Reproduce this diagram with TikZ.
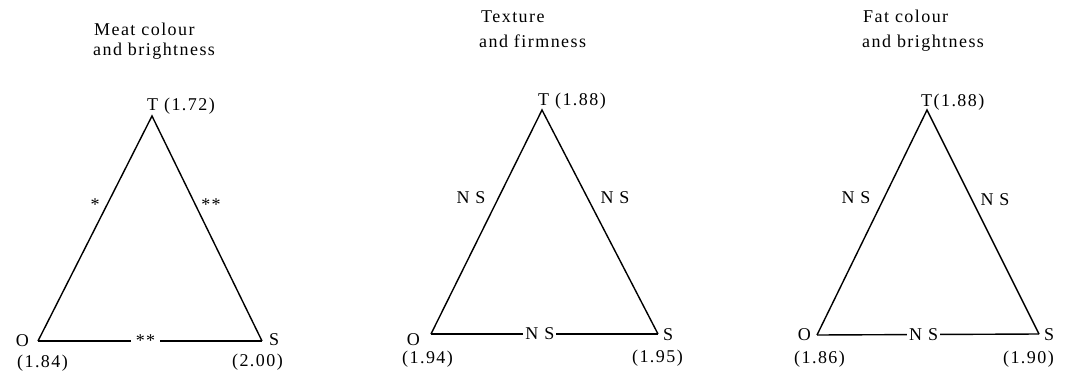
\documentclass[tikz,border=0pt]{standalone}
\usepackage{fontspec}
\setmainfont{Liberation Serif}[LetterSpace=8]

\begin{document}
\begin{tikzpicture}[
    x=1pt, y=-1pt,
    font=\fontsize{18}{22}\selectfont,
    edge/.style={line width=1.4pt},
    title/.style={anchor=base west, inner sep=0pt},
    sig/.style={anchor=base, inner sep=0pt},
    gap/.style={fill=white, inner sep=2pt},
    vtx/.style={inner sep=0pt}
]
\useasboundingbox (0,0) rectangle (1074,372);

% ========================================================
% 1. Meat colour and brightness
% ========================================================
\coordinate (T1) at (152,116);
\coordinate (O1) at (38,341);
\coordinate (S1) at (262,341);

\node[title] (title1a) at (94,35) {Meat colour};
\node[title] (title1b) at (93,55) {and brightness};

\draw[edge] (O1) -- (T1) -- (S1);
\draw[edge] (O1) -- node[gap, pos=0.48, inner sep=5pt] (ms1) {**} (S1);

\node[vtx, anchor=base west] (tl1) at (147,110) {T (1.72)};
\node[vtx, anchor=base east] (ol1) at (29,346) {O};
\node[vtx, anchor=base west] (sl1) at (269,345) {S};
\node[vtx, anchor=base west] (ov1) at (17,367) {(1.84)};
\node[vtx, anchor=base east] (sv1) at (283,366) {(2.00)};

\node[sig] (lt1) at (95,210) {*};
\node[sig] (rt1) at (211,210) {**};

% ========================================================
% 2. Texture and firmness
% ========================================================
\coordinate (T2) at (542,110);
\coordinate (O2) at (431,334);
\coordinate (S2) at (658,334);

\node[title] (title2a) at (481,23) {Texture};
\node[title] (title2b) at (479,47) {and firmness};

\draw[edge] (O2) -- (T2) -- (S2);
\draw[edge] (O2) -- node[gap, pos=0.48] (ms2) {N S} (S2);

\node[vtx, anchor=base west] (tl2) at (538,105) {T (1.88)};
\node[vtx, anchor=base east] (ol2) at (420,345) {O};
\node[vtx, anchor=base west] (sl2) at (663,340) {S};
\node[vtx, anchor=base west] (ov2) at (402,363) {(1.94)};
\node[vtx, anchor=base east] (sv2) at (683,362) {(1.95)};

\node[sig] (lt2) at (471,203) {N S};
\node[sig] (rt2) at (615,203) {N S};

% ========================================================
% 3. Fat colour and brightness
% ========================================================
\coordinate (T3) at (927,110);
\coordinate (O3) at (817,335);
\coordinate (S3) at (1039,334);

\node[title] (title3a) at (863,23) {Fat colour};
\node[title] (title3b) at (862,47) {and brightness};

\draw[edge] (O3) -- (T3) -- (S3);
\draw[edge] (O3) -- node[gap, pos=0.48] (ms3) {N S} (S3);

\node[vtx, anchor=base west] (tl3) at (921,106) {T(1.88)};
\node[vtx, anchor=base east] (ol3) at (811,340) {O};
\node[vtx, anchor=base west] (sl3) at (1044,340) {S};
\node[vtx, anchor=base west] (ov3) at (794,363) {(1.86)};
\node[vtx, anchor=base east] (sv3) at (1054,363) {(1.90)};

\node[sig] (lt3) at (856,203) {N S};
\node[sig] (rt3) at (995,205) {N S};

\end{tikzpicture}
\end{document}
